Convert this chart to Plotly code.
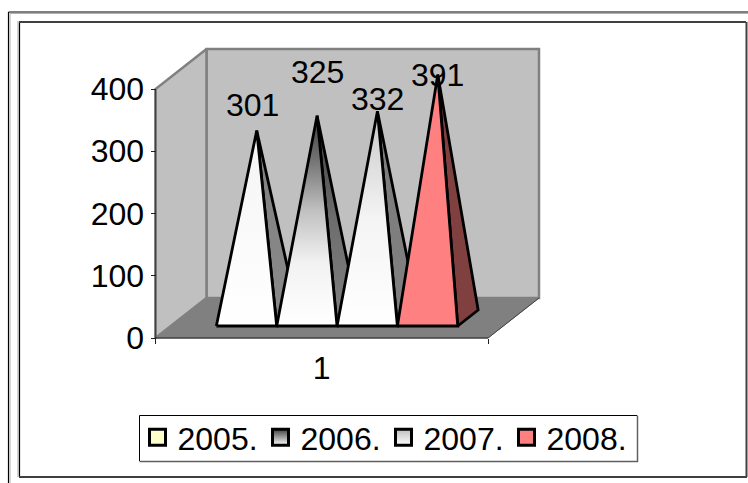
import plotly.graph_objects as go

# ---- data ----
categories = ["1"]
series_names = ["2005.", "2006.", "2007.", "2008."]
series_values = [301, 325, 332, 391]
y_ticks = [0, 100, 200, 300, 400]

# ---- styles ----
front_scale = [
    [[0, "#FFFFFF"], [1, "#F4F4F4"]],
    [[0, "#FFFFFF"], [0.3, "#F2F2F2"], [0.55, "#C0C0C0"], [0.8, "#707070"], [1, "#404040"]],
    [[0, "#FFFFFF"], [0.5, "#F4F4F4"], [1, "#C8C8C8"]],
    [[0, "#FF8080"], [1, "#FF8080"]],
]
side_scale = [
    [[0, "#8A8A8A"], [1, "#808080"]],
    [[0, "#808080"], [0.5, "#6E6E6E"], [1, "#404040"]],
    [[0, "#808080"], [1, "#7C7C7C"]],
    [[0, "#804040"], [1, "#804040"]],
]
legend_top = ["#FFFFCC", "#404040", "#BEBEBE", "#FF8080"]
legend_bottom = ["#FFFFCC", "#FFFFFF", "#FFFFFF", "#FF8080"]
label_shift = [(-4, 26), (0, 44), (0, 12), (0, 0)]

W, H = 748, 483
X0, X1 = 155.5, 488.0     # front floor edge, pixels
Y0, Y400 = 338.0, 89.0    # value axis, pixels
DX, DY = 51.0, 40.0       # depth offset of the back wall, pixels
PX_X = X1 - X0
PX_V = (Y0 - Y400) / 400.0
FONT = "Liberation Sans, Arial, sans-serif"
FS = 32


def proj(c, d, v):
    """Oblique projection: category position, depth, value -> axis coordinates."""
    return c + d * DX / PX_X, v + d * DY / PX_V


def poly(points, fill, line_color, lw, gradient=None):
    pts = [proj(*p) for p in points]
    xs = [p[0] for p in pts] + [pts[0][0]]
    ys = [p[1] for p in pts] + [pts[0][1]]
    kw = dict(fillcolor=fill) if gradient is None else dict(
        fillgradient=dict(type="vertical", colorscale=gradient))
    return go.Scatter(x=xs, y=ys, mode="lines", fill="toself",
                      line=dict(color=line_color, width=lw),
                      hoverinfo="skip", showlegend=False, **kw)


fig = go.Figure()
VMAX = y_ticks[-1]
WALL, FLOOR, EDGE = "#C0C0C0", "#808080", "#808080"

# walls and floor
fig.add_trace(poly([(0, 1, 0), (1, 1, 0), (1, 1, VMAX), (0, 1, VMAX)], WALL, EDGE, 2.5))
fig.add_trace(poly([(0, 0, 0), (0, 1, 0), (0, 1, VMAX), (0, 0, VMAX)], WALL, EDGE, 2.5))
fig.add_trace(poly([(0, 0, 0), (1, 0, 0), (1, 1, 0), (0, 1, 0)], FLOOR, FLOOR, 1))
for pts, col, w in [
    ([(0, 0, 0), (0, 0, VMAX)], "#404040", 1.5),
    ([(0, 0, 0), (1, 0, 0)], "#202020", 1.2),
    ([(1, 0, 0), (1, 1, 0)], "#404040", 1),
]:
    p = [proj(*q) for q in pts]
    fig.add_trace(go.Scatter(x=[a[0] for a in p], y=[a[1] for a in p], mode="lines",
                             line=dict(color=col, width=w), hoverinfo="skip", showlegend=False))

# pyramids
n = len(series_values)
gap = 0.137
bar = (1 - 2 * gap) / n
d0, d1 = 0.3, 0.7
for i, v in enumerate(series_values):
    a, b = gap + i * bar, gap + (i + 1) * bar
    apex = ((a + b) / 2, (d0 + d1) / 2, v)
    fig.add_trace(poly([(b, d0, 0), (b, d1, 0), apex], None, "#000000", 2.8, side_scale[i]))
    fig.add_trace(poly([(a, d0, 0), (b, d0, 0), apex], None, "#000000", 2.8, front_scale[i]))

# legend entries
for i, name in enumerate(series_names):
    fig.add_trace(go.Scatter(
        x=[None], y=[None], mode="markers", name=name, hoverinfo="skip",
        marker=dict(symbol="square", size=16, color=legend_top[i],
                    gradient=dict(type="vertical", color=legend_bottom[i]),
                    line=dict(color="#000000", width=3))))

# value labels
annotations = []
for i, v in enumerate(series_values):
    a = gap + (i + 0.5) * bar
    x, y = proj(a, (d0 + d1) / 2, v)
    annotations.append(dict(x=x, y=y, xref="x", yref="y", text=str(v), showarrow=False,
                            xanchor="center", yanchor="bottom",
                            xshift=label_shift[i][0], yshift=label_shift[i][1] - 20,
                            font=dict(family=FONT, size=FS, color="#000000")))


def rect(x0, y0, x1, y1, color, width):
    """Line given in image pixels."""
    return dict(type="line", xref="paper", yref="paper",
                x0=x0 / W, x1=x1 / W, y0=1 - y0 / H, y1=1 - y1 / H,
                line=dict(color=color, width=width), layer="below")


shapes = [
    rect(8.5, 12, 748, 12, "#000000", 1.2), rect(8.5, 12, 8.5, 483, "#000000", 1.2),
    rect(10, 13.5, 748, 13.5, "#B0B0B0", 1), rect(10, 13.5, 10, 483, "#B0B0B0", 1),
    rect(18, 21, 18, 477, "#A8A8A8", 1),
    rect(19.5, 22, 19.5, 477, "#000000", 1.2), rect(19, 22, 746, 22, "#404040", 1.8),
    rect(746.5, 22, 746.5, 477, "#404040", 2), rect(19, 477, 747, 477, "#404040", 2),
    rect(139.5, 415.5, 637, 415.5, "#000000", 1), rect(139.5, 415.5, 139.5, 461, "#000000", 1),
    rect(139.5, 461.5, 638, 461.5, "#606060", 1.5), rect(637.5, 415.5, 637.5, 462, "#606060", 1.5),
]

x_range = [-X0 / PX_X, (W - X0) / PX_X]
fig.update_layout(
    width=W, height=H, autosize=False,
    margin=dict(l=0, r=0, t=0, b=0),
    paper_bgcolor="#FFFFFF", plot_bgcolor="#FFFFFF",
    font=dict(family=FONT, size=FS, color="#000000"),
    xaxis=dict(range=x_range, domain=[0, 1], anchor="free",
               position=1 - Y0 / H, showgrid=False, zeroline=False, showline=False,
               tickmode="array", tickvals=[0.5], ticktext=categories,
               ticks="outside", ticklen=2, tickcolor="rgba(0,0,0,0)",
               tickfont=dict(family=FONT, size=FS)),
    xaxis2=dict(range=x_range, domain=[0, 1], anchor="free",
                overlaying="x", position=1 - Y0 / H, showgrid=False, zeroline=False,
                showline=False, tickmode="array", tickvals=[0, 1], ticktext=["", ""],
                ticks="outside", ticklen=5, tickwidth=1, tickcolor="#202020"),
    yaxis=dict(range=[(Y0 - H) / PX_V, Y0 / PX_V], domain=[0, 1], anchor="free",
               position=X0 / W, showgrid=False, zeroline=False, showline=False,
               tickmode="array", tickvals=y_ticks, ticks="outside", ticklen=5, tickwidth=1,
               tickcolor="#202020", tickfont=dict(family=FONT, size=FS)),
    legend=dict(orientation="h", x=137.5 / W, xanchor="left", y=1 - 410 / H,
                yanchor="top", bordercolor="rgba(0,0,0,0)", borderwidth=0,
                bgcolor="rgba(255,255,255,0)",
                entrywidth=78, entrywidthmode="pixels", itemsizing="trace", traceorder="normal",
                font=dict(family=FONT, size=FS, color="#000000")),
    annotations=annotations, shapes=shapes,
    showlegend=True,
)
fig.add_trace(go.Scatter(x=[None], y=[None], xaxis="x2", showlegend=False, hoverinfo="skip"))
fig.write_html("out.html", config=dict(displayModeBar=False),
               default_width="748px", default_height="483px",
               post_script="document.body.style.margin='0';document.documentElement.style.overflow='hidden';")
